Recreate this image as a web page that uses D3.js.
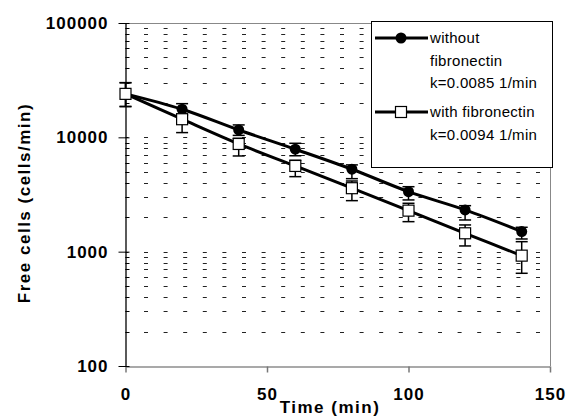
<!DOCTYPE html>
<html><head><meta charset="utf-8">
<script src="https://cdn.jsdelivr.net/npm/d3@7"></script>
<style>
body{margin:0;background:#fff;}
svg{display:block;font-family:"Liberation Sans",Arial,sans-serif;}
</style></head>
<body>
<svg id="c" width="569" height="418"></svg>
<script>
const times = [0,20,40,60,80,100,120,140];
const withoutVals = [24000,17600,11600,7870,5260,3350,2320,1500];
const withoutHi   = [30000,19700,12840,8870,5740,3700,2525,1634];
const withoutLo   = [18600,15600,10400,6900,4350,2834,1893,1291];
const withVals    = [24000,14400,8750,5620,3590,2285,1448,923];
const withHi      = [30100,16000,9800,6300,4150,2650,1713,1223];
const withLo      = [18600,11000,6870,4530,2794,1830,1122,647];
const xTicks = [0,50,100,150];
const yTicks = [100,1000,10000,100000];
const legendLabels = [["without","fibronectin","k=0.0085 1/min"],["with fibronectin","k=0.0094 1/min"]];

const svg = d3.select("#c");
const x = d3.scaleLinear().domain([0,150]).range([125.5,550]);
const y = d3.scaleLog().domain([100,100000]).range([366,23]);

const minors = [];
[100,1000,10000].forEach(d=>{for(let m=1;m<=9;m++){const v=d*m; if(v>100) minors.push(v);}});

svg.append("g").selectAll("line").data(minors).join("line")
  .attr("x1",x(0)).attr("x2",x(150))
  .attr("y1",d=>Math.round(y(d))+0.5).attr("y2",d=>Math.round(y(d))+0.5)
  .attr("stroke","#222").attr("stroke-width",1)
  .attr("stroke-dasharray","4,15.6").attr("stroke-dashoffset",-18.5);

svg.append("line").attr("x1",x(0)).attr("x2",x(150)).attr("y1",y(100000)+0.5).attr("y2",y(100000)+0.5).attr("stroke","#888");
svg.append("line").attr("x1",x(150)+0.5).attr("x2",x(150)+0.5).attr("y1",y(100000)).attr("y2",y(100)).attr("stroke","#888");

const xAxis = svg.append("g").attr("transform",`translate(0,${Math.round(y(100))+0.5})`)
  .call(d3.axisBottom(x).tickValues(xTicks).tickSize(6).tickSizeOuter(0).tickPadding(15));
xAxis.select(".domain").attr("stroke","#555").attr("stroke-width",1.2);
xAxis.selectAll(".tick line").attr("stroke","#777").attr("stroke-width",1.5);
xAxis.selectAll(".tick text").attr("font-size",17).attr("font-weight","bold").attr("fill","#000")
  .attr("font-family","'Liberation Sans',Arial,sans-serif").style("letter-spacing","1px");

const yAxis = svg.append("g").attr("transform",`translate(${x(0)},0)`)
  .call(d3.axisLeft(y).tickValues(yTicks).tickFormat(d3.format("d")).tickSize(7).tickSizeOuter(0).tickPadding(10));
yAxis.select(".domain").attr("stroke","#000").attr("stroke-width",1.3);
yAxis.selectAll(".tick line").attr("stroke","#000").attr("x2",4).attr("x1",-7);
yAxis.selectAll(".tick text").attr("font-size",17).attr("font-weight","bold").attr("fill","#000")
  .attr("font-family","'Liberation Sans',Arial,sans-serif").style("letter-spacing","1px");
svg.append("g").selectAll("line").data(minors.filter(v=>yTicks.indexOf(v)<0)).join("line")
  .attr("x1",x(0)).attr("x2",x(0)+4)
  .attr("y1",d=>Math.round(y(d))+0.5).attr("y2",d=>Math.round(y(d))+0.5)
  .attr("stroke","#000");

svg.append("text").attr("x",330).attr("y",413).attr("text-anchor","middle")
  .attr("font-size",17).attr("font-weight","bold").style("letter-spacing","1.5px").text("Time (min)");
svg.append("text").attr("transform","translate(30,203) rotate(-90)").attr("text-anchor","middle")
  .attr("font-size",17).attr("font-weight","bold").style("letter-spacing","1.5px").text("Free cells (cells/min)");

const line = d3.line().x((d,i)=>x(times[i])).y(d=>y(d)).curve(d3.curveCatmullRom.alpha(0.5));
svg.append("path").attr("d",line(withoutVals)).attr("fill","none").attr("stroke","#000").attr("stroke-width",3);
svg.append("path").attr("d",line(withVals)).attr("fill","none").attr("stroke","#000").attr("stroke-width",3);

function errBars(hi,lo){
  const g = svg.append("g").attr("stroke","#000").attr("stroke-width",1.5);
  times.forEach((t,i)=>{
    const cx = x(t);
    g.append("line").attr("x1",cx).attr("x2",cx).attr("y1",y(hi[i])).attr("y2",y(lo[i]));
    g.append("line").attr("x1",cx-6).attr("x2",cx+6).attr("y1",y(hi[i])).attr("y2",y(hi[i]));
    g.append("line").attr("x1",cx-6).attr("x2",cx+6).attr("y1",y(lo[i])).attr("y2",y(lo[i]));
  });
}
errBars(withoutHi,withoutLo);
errBars(withHi,withLo);

svg.append("g").selectAll("circle").data(withoutVals).join("circle")
  .attr("cx",(d,i)=>x(times[i])).attr("cy",d=>y(d)).attr("r",5.5).attr("fill","#000");
svg.append("g").selectAll("rect").data(withVals).join("rect")
  .attr("x",(d,i)=>x(times[i])-5.5).attr("y",d=>y(d)-5.5).attr("width",11).attr("height",11)
  .attr("fill","#fff").attr("stroke","#000").attr("stroke-width",1.2);

const lg = svg.append("g");
lg.append("rect").attr("x",371.5).attr("y",21.5).attr("width",181).attr("height",146)
  .attr("fill","#fff").attr("stroke","#000").attr("stroke-width",1);
const entryY = [38,112];
entryY.forEach((ey,k)=>{
  lg.append("line").attr("x1",375).attr("x2",428).attr("y1",ey).attr("y2",ey).attr("stroke","#000").attr("stroke-width",3);
  if(k===0) lg.append("circle").attr("cx",401).attr("cy",ey).attr("r",5.5).attr("fill","#000");
  else lg.append("rect").attr("x",395.5).attr("y",ey-5.5).attr("width",11).attr("height",11).attr("fill","#fff").attr("stroke","#000").attr("stroke-width",1.2);
  legendLabels[k].forEach((txt,j)=>{
    lg.append("text").attr("x",430).attr("y",ey+5+j*22.5).attr("font-size",15).attr("fill","#000")
      .style("letter-spacing","0.3px").text(txt);
  });
});
</script>
</body></html>
